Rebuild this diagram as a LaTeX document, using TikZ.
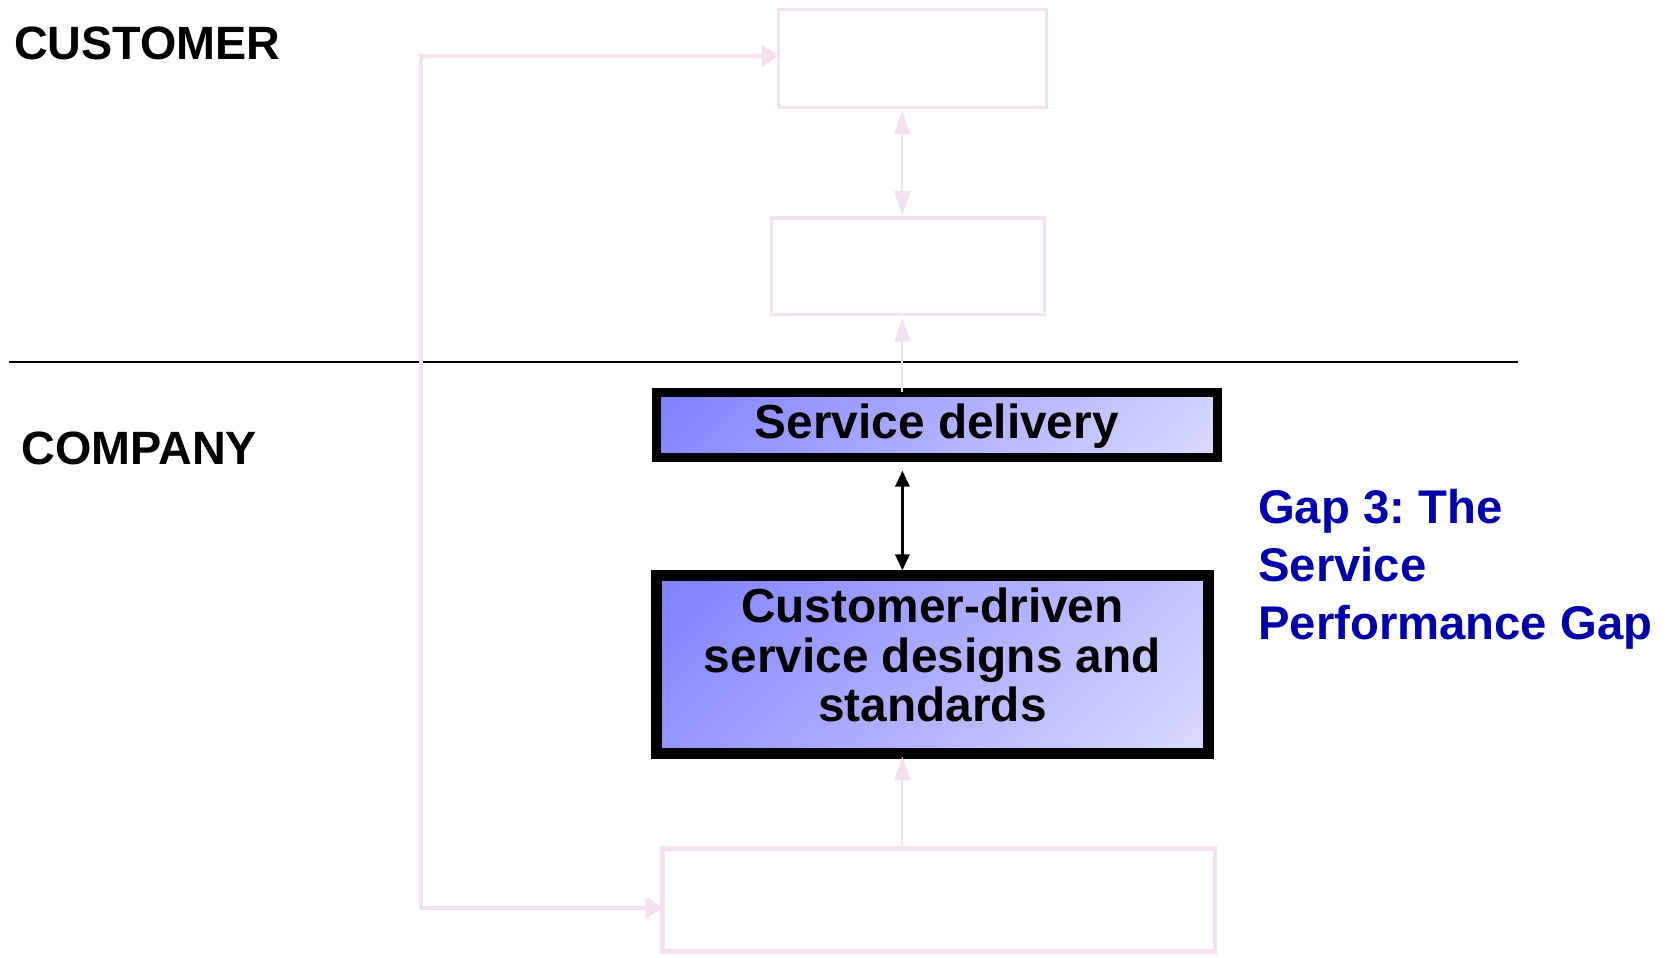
\documentclass[tikz,border=0pt]{standalone}
\usepackage{fontspec}
\setmainfont{Liberation Sans}
\usetikzlibrary{arrows.meta}
\frenchspacing
\definecolor{pinkl}{RGB}{245,226,240}
\definecolor{gapblue}{RGB}{0,0,170}
\definecolor{shadeA}{RGB}{128,128,255}
\definecolor{shadeB}{RGB}{218,218,255}
\pgfdeclareverticalshading{diagshade}{100bp}{color(0bp)=(shadeB); color(15bp)=(shadeB); color(85bp)=(shadeA); color(100bp)=(shadeA)}
\tikzset{
  x=1pt, y=-1pt,
  ghostbox/.style={draw=pinkl, line width=3pt, fill=white, inner sep=0pt, outer sep=0pt},
  mainbox/.style={draw=black, line width=9pt, inner sep=0pt, outer sep=0pt,
    shading=diagshade, shading angle=45},
  maintext/.style={font=\bfseries\fontsize{44.5}{46}\selectfont, align=center, inner sep=0pt},
  ghostline/.style={draw=pinkl, line width=3.5pt},
  ghostarrow/.style={draw=pinkl, line width=1.8pt},
  blackarrow/.style={draw=black, line width=3pt, {Triangle[length=15pt,width=13pt]}-{Triangle[length=15pt,width=13pt]}},
  sidelabel/.style={font=\bfseries\fontsize{43.5}{54}\selectfont, inner sep=0pt, anchor=base west},
  gaplabel/.style={font=\bfseries\fontsize{44}{54}\selectfont, text=gapblue, inner sep=0pt, anchor=north west, align=left}
}
\begin{document}
\begin{tikzpicture}
\useasboundingbox (0,0) rectangle (1562,891);
\fill[white] (0,0) rectangle (1562,891);

% divider
\coordinate (divL) at (8,337);
\coordinate (divR) at (1413,337);
\draw[line width=2pt] (divL) -- (divR);

% labels
\node[sidelabel] (customer) at (13,55) {CUSTOMER};
\node[sidelabel] (company) at (20,432) {COMPANY};

% ghost boxes
\node[ghostbox, minimum width=249pt, minimum height=91pt] (top) at (849.5,54.5) {};
\node[ghostbox, minimum width=254pt, minimum height=90pt] (mid) at (845,248) {};
\node[ghostbox, line width=4.5pt, minimum width=514pt, minimum height=96pt] (bot) at (874,838) {};

% main boxes
\node[mainbox, line width=8.5pt, minimum width=522pt, minimum height=61pt] (deliv) at (872,395.5) {};
\node[maintext] (delivtext) at ([yshift=-1pt]deliv.center) {Service delivery};
\node[mainbox, line width=10pt, minimum width=514pt, minimum height=165.5pt] (design) at (868,618.75) {};
\node[maintext] (designtext) at ([yshift=9pt]design.center) {Customer-driven\\service designs and\\standards};

% axis coordinates
\coordinate (ax) at (840,0);
\coordinate (lx) at (392,0);
\coordinate (topy) at (0,52);
\coordinate (boty) at (0,845);

% feedback loop
\draw[ghostline, {Triangle[length=16pt,width=20pt]}-{Triangle[length=16pt,width=20pt]}]
  (bot.west |- boty) -- (lx |- boty) -- (lx |- topy) -- (top.west |- topy);

% ghost vertical arrows
\draw[ghostarrow, {Triangle[length=22pt,width=15pt]}-{Triangle[length=22pt,width=15pt]}]
  ([yshift=-3pt]ax |- top.south) -- ([yshift=3pt]ax |- mid.north);
\draw[ghostarrow, -{Triangle[length=22pt,width=15pt]}]
  (ax |- deliv.north) -- ([yshift=-3pt]ax |- mid.south);
\draw[ghostarrow, -{Triangle[length=22pt,width=15pt]}]
  (ax |- bot.north) -- ([yshift=-3pt]ax |- design.south);

% gap arrow
\draw[blackarrow] ([yshift=-12pt]ax |- deliv.south) -- ([yshift=5pt]ax |- design.north);

% gap label
\node[gaplabel] (gap) at (1171,455) {Gap 3: The\\Service\\Performance Gap};
\end{tikzpicture}
\end{document}
